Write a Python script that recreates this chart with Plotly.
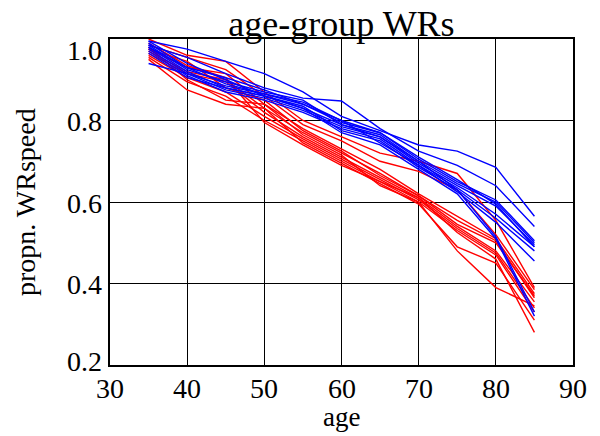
import plotly.graph_objects as go

ages = [35, 40, 45, 50, 55, 60, 65, 70, 75, 80, 85]

red_series = [
    [1.000, 0.960, 0.945, 0.870, 0.800, 0.760, 0.720, 0.700, 0.670, 0.555, 0.390],
    [0.985, 0.955, 0.925, 0.860, 0.790, 0.750, 0.700, 0.675, 0.630, 0.520, 0.385],
    [0.975, 0.930, 0.915, 0.840, 0.780, 0.730, 0.680, 0.620, 0.565, 0.510, 0.375],
    [0.970, 0.920, 0.900, 0.830, 0.770, 0.720, 0.670, 0.615, 0.545, 0.500, 0.370],
    [0.965, 0.915, 0.895, 0.820, 0.760, 0.710, 0.660, 0.610, 0.540, 0.480, 0.355],
    [0.960, 0.905, 0.870, 0.810, 0.755, 0.705, 0.655, 0.605, 0.535, 0.475, 0.340],
    [0.955, 0.895, 0.860, 0.800, 0.750, 0.700, 0.650, 0.600, 0.530, 0.470, 0.330],
    [0.950, 0.875, 0.840, 0.830, 0.745, 0.695, 0.645, 0.595, 0.490, 0.450, 0.310],
    [0.980, 0.900, 0.850, 0.840, 0.765, 0.715, 0.640, 0.600, 0.480, 0.390, 0.345],
    [0.990, 0.935, 0.905, 0.795, 0.740, 0.690, 0.650, 0.610, 0.525, 0.460, 0.280],
    [0.975, 0.945, 0.880, 0.850, 0.775, 0.725, 0.665, 0.615, 0.555, 0.505, 0.365],
]

blue_series = [
    [0.995, 0.975, 0.945, 0.915, 0.870, 0.810, 0.775, 0.740, 0.725, 0.685, 0.565],
    [0.985, 0.955, 0.915, 0.880, 0.855, 0.848, 0.780, 0.725, 0.690, 0.640, 0.540],
    [0.990, 0.930, 0.890, 0.865, 0.840, 0.800, 0.770, 0.705, 0.650, 0.605, 0.505],
    [0.980, 0.920, 0.880, 0.860, 0.830, 0.790, 0.765, 0.700, 0.645, 0.600, 0.500],
    [0.975, 0.915, 0.875, 0.855, 0.825, 0.785, 0.760, 0.695, 0.640, 0.590, 0.495],
    [0.970, 0.910, 0.870, 0.850, 0.820, 0.780, 0.755, 0.690, 0.635, 0.570, 0.490],
    [0.965, 0.905, 0.880, 0.860, 0.835, 0.775, 0.750, 0.685, 0.630, 0.560, 0.480],
    [0.940, 0.915, 0.885, 0.865, 0.845, 0.800, 0.745, 0.690, 0.625, 0.550, 0.455],
    [0.985, 0.925, 0.895, 0.870, 0.850, 0.790, 0.760, 0.700, 0.630, 0.515, 0.330],
    [0.995, 0.940, 0.900, 0.860, 0.830, 0.770, 0.740, 0.680, 0.620, 0.510, 0.320],
    [0.980, 0.930, 0.905, 0.875, 0.840, 0.795, 0.770, 0.710, 0.655, 0.595, 0.490],
]

x_ticks = [30, 40, 50, 60, 70, 80, 90]
x_tick_labels = ["30", "40", "50", "60", "70", "80", "90"]
y_ticks = [0.2, 0.4, 0.6, 0.8, 1.0]
y_tick_labels = ["0.2", "0.4", "0.6", "0.8", "1.0"]

FONT = "Liberation Serif, Times New Roman, serif"
BLACK28 = dict(family=FONT, size=28, color="black")

fig = go.Figure()
for s in red_series:
    fig.add_trace(go.Scatter(x=ages, y=s, mode="lines",
                             line=dict(color="#ff0000", width=1.4),
                             showlegend=False, hoverinfo="skip"))
for s in blue_series:
    fig.add_trace(go.Scatter(x=ages, y=s, mode="lines",
                             line=dict(color="#0000ff", width=1.4),
                             showlegend=False, hoverinfo="skip"))

# y tick labels as annotations (end labels nudged inside like the original)
shifts = {0.2: 4, 1.0: -11}
for v, t in zip(y_ticks, y_tick_labels):
    fig.add_annotation(x=0, xref="paper", y=v, yref="y", text=t,
                       showarrow=False, xanchor="right", yanchor="middle",
                       xshift=-6, yshift=shifts.get(v, -1), font=BLACK28)

# x tick labels as annotations
for v, t in zip(x_ticks, x_tick_labels):
    fig.add_annotation(x=v, xref="x", y=0, yref="paper", text=t,
                       showarrow=False, xanchor="center", yanchor="middle",
                       yshift=-23, font=BLACK28)

# axis titles as annotations for exact placement
fig.add_annotation(x=0.5, xref="paper", y=0, yref="paper", text="age",
                   showarrow=False, xanchor="center", yanchor="middle",
                   yshift=-52, font=dict(family=FONT, size=27, color="black"))
fig.add_annotation(x=0, xref="paper", y=0.5, yref="paper", text="propn. WRspeed",
                   showarrow=False, xanchor="center", yanchor="middle", textangle=-90,
                   xshift=-85, font=BLACK28)

fig.update_layout(
    width=600, height=436,
    margin=dict(l=110, r=27, t=39, b=71, autoexpand=False),
    paper_bgcolor="white", plot_bgcolor="white",
    font=BLACK28,
    title=dict(text="age-group WRs", x=0.5, xanchor="center", xref="paper",
               y=1 - 23 / 436, yanchor="middle",
               font=dict(family=FONT, size=36, color="black")),
    xaxis=dict(range=[30, 90], tickvals=x_ticks, showticklabels=False,
               showgrid=True, gridcolor="black",
               gridwidth=1.3, showline=True, linecolor="black", linewidth=2,
               mirror=True, ticks="", zeroline=False, automargin=False),
    yaxis=dict(range=[0.2, 1.0], tickvals=y_ticks, showticklabels=False,
               showgrid=True, gridcolor="black", gridwidth=1.3, showline=True,
               linecolor="black", linewidth=2, mirror=True, ticks="", zeroline=False,
               automargin=False),
)

fig.write_html("out.html")
